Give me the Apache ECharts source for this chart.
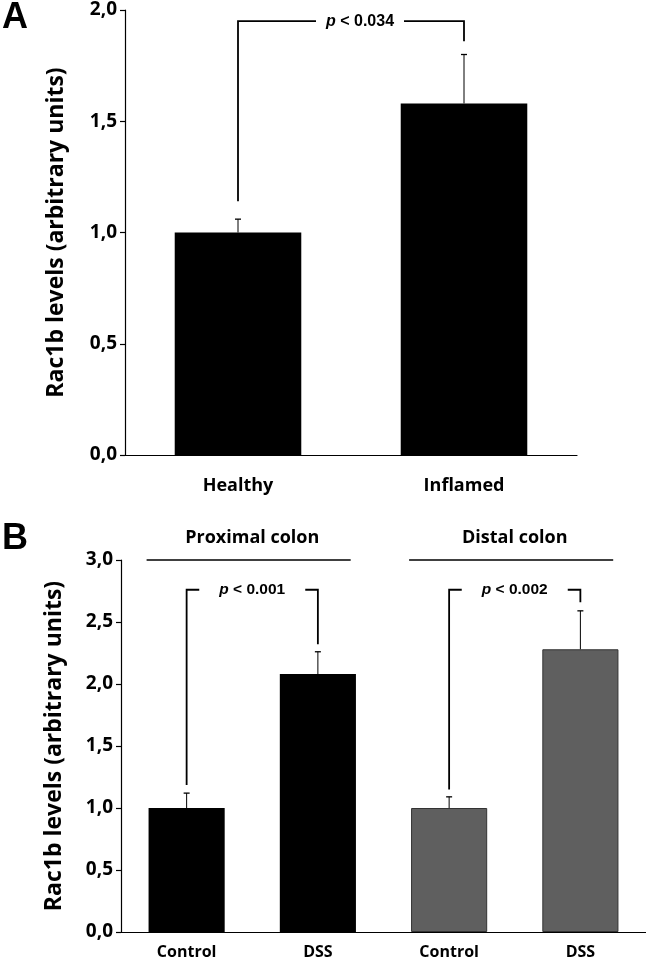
<!DOCTYPE html>
<html><head><meta charset="utf-8">
<script src="https://cdn.jsdelivr.net/npm/echarts@6/dist/echarts.min.js"></script>
<style>html,body{margin:0;padding:0;background:#fff}#c{width:646px;height:966px}</style>
</head><body><div id="c"></div>
<script>
// ---- data ----
const catsA = ['Healthy', 'Inflamed'];
const meanA = [1.0, 1.58];
const errA = [0.06, 0.22];
const catsB = ['Control', 'DSS', 'Control', 'DSS'];
const meanB = [1.0, 2.08, 1.0, 2.28];
const errB = [0.12, 0.18, 0.09, 0.31];
const groupsB = ['Proximal colon', 'Distal colon'];
const pA = ['p < 0.034'];
const pB = ['p < 0.001', 'p < 0.002'];
// brackets: [left category, right category, top, left leg bottom, right leg bottom]
const bracketA = [[0, 1, 1.95, 1.14, 1.86]];
const bracketB = [[0, 1, 2.76, 1.185, 2.32], [2, 3, 2.76, 1.15, 2.66]];
const groupSpanB = [[0, 1, 3.0], [2, 3, 3.0]];
const yMaxA = 2.0, yMaxB = 3.0, yStep = 0.5;
const yTitle = 'Rac1b levels (arbitrary units)';

const colorsB = ['#000000', '#000000', '#5f5f5f', '#5f5f5f'];
const tickFont = '"Open Sans", Lato, sans-serif';
const fmt = v => v.toFixed(1).replace('.', ',');

function errRender(params, api) {
  const top = api.coord([api.value(0), api.value(2)]);
  const base = api.coord([api.value(0), api.value(1)]);
  return {
    type: 'group', children: [
      { type: 'line', shape: { x1: top[0], y1: base[1], x2: top[0], y2: top[1] }, style: { stroke: '#000', lineWidth: 1 } },
      { type: 'line', shape: { x1: top[0] - 3, y1: top[1], x2: top[0] + 3, y2: top[1] }, style: { stroke: '#000', lineWidth: 1.3 } }
    ]
  };
}
function bracketRender(labels, gapHalf, fs, shift) {
  return function (params, api) {
    const l = api.coord([api.value(0), api.value(2)]);
    const r = api.coord([api.value(1), api.value(2)]);
    const lb = api.coord([api.value(0), api.value(3)]);
    const rb = api.coord([api.value(1), api.value(4)]);
    const mid = (l[0] + r[0]) / 2 + shift;
    const st = { stroke: '#000', lineWidth: 1.8 };
    return {
      type: 'group', children: [
        { type: 'polyline', shape: { points: [[lb[0], lb[1]], [l[0], l[1]], [mid - gapHalf, l[1]]] }, style: Object.assign({ fill: null }, st) },
        { type: 'polyline', shape: { points: [[mid + gapHalf, r[1]], [r[0], r[1]], [rb[0], rb[1]]] }, style: Object.assign({ fill: null }, st) },
        { type: 'text', x: mid, y: l[1], style: {
            text: '{i|' + labels[params.dataIndex].slice(0, 1) + '}' + labels[params.dataIndex].slice(1),
            align: 'center', verticalAlign: 'middle',
            font: 'bold ' + fs + 'px "Liberation Sans", Arial, sans-serif', fill: '#000',
            rich: { i: { fontStyle: 'italic', fontWeight: 'bold', fontSize: fs, fontFamily: '"Liberation Sans", Arial, sans-serif' } }
          } }
      ]
    };
  };
}
function groupRender(params, api) {
  const c0 = api.coord([api.value(0), api.value(2)]);
  const c1 = api.coord([api.value(1), api.value(2)]);
  const bw = api.size([1, 0])[0];
  const x1 = c0[0] - 0.305 * bw, x2 = c1[0] + 0.25 * bw;
  return {
    type: 'group', children: [
      { type: 'line', shape: { x1: x1, y1: c0[1], x2: x2, y2: c0[1] }, style: { stroke: '#000', lineWidth: 1.5 } },
      { type: 'text', x: (c0[0] + c1[0]) / 2, y: c0[1] - 22, style: {
          text: groupsB[params.dataIndex], align: 'center', verticalAlign: 'middle',
          font: 'bold 18px ' + tickFont, fill: '#000' } }
    ]
  };
}

function xAx(grid, data, fs, margin) {
  return {
    gridIndex: grid, type: 'category', data: data,
    axisLine: { lineStyle: { color: '#000', width: 1.2 } },
    axisTick: { length: 7, lineStyle: { color: '#000', width: 1.2 } },
    axisLabel: { color: '#000', fontFamily: tickFont, fontWeight: 'bold', fontSize: fs, margin: margin }
  };
}
function yAx(grid, max, gap) {
  return {
    gridIndex: grid, type: 'value', min: 0, max: max, interval: yStep,
    splitLine: { show: false },
    axisLine: { show: true, lineStyle: { color: '#000', width: 1.2 } },
    axisTick: { show: true, length: 5, lineStyle: { color: '#000', width: 1.2 } },
    axisLabel: { color: '#000', fontFamily: tickFont, fontWeight: 'bold', fontSize: 19, margin: 8, formatter: fmt },
    name: yTitle, nameLocation: 'middle', nameRotate: 90, nameGap: gap,
    nameTextStyle: { color: '#000', fontFamily: tickFont, fontWeight: 'bold', fontSize: 23 }
  };
}

const chart = echarts.init(document.getElementById('c'), null, { renderer: 'canvas' });
chart.setOption({
  animation: false,
  backgroundColor: '#fff',
  graphic: [
    { type: 'text', left: 2, top: 0, style: { text: 'A', font: 'bold 36px "Liberation Sans", Arial, sans-serif', fill: '#000' } },
    { type: 'text', left: 2, top: 521, style: { text: 'B', font: 'bold 36px "Liberation Sans", Arial, sans-serif', fill: '#000' } }
  ],
  grid: [
    { left: 125, top: 10, width: 452, height: 445 },
    { left: 121, top: 560, width: 530, height: 372 }
  ],
  xAxis: [xAx(0, catsA, 18, 22), xAx(1, catsB, 16, 12)],
  yAxis: [yAx(0, yMaxA, 57), yAx(1, yMaxB, 55)],
  series: [
    { type: 'bar', xAxisIndex: 0, yAxisIndex: 0, data: meanA, barCategoryGap: '44%',
      itemStyle: { color: '#000' } },
    { type: 'custom', xAxisIndex: 0, yAxisIndex: 0, renderItem: errRender,
      data: meanA.map((m, i) => [i, m, m + errA[i]]), z: 3 },
    { type: 'custom', xAxisIndex: 0, yAxisIndex: 0, renderItem: bracketRender(pA, 44, 16, 9),
      encode: { x: [0, 1], y: [2, 3, 4] }, data: bracketA, z: 3 },
    { type: 'bar', xAxisIndex: 1, yAxisIndex: 1, barCategoryGap: '42%',
      data: meanB.map((m, i) => ({ value: m, itemStyle: { color: colorsB[i], borderColor: i > 1 ? '#333' : '#000', borderWidth: i > 1 ? 1 : 0 } })) },
    { type: 'custom', xAxisIndex: 1, yAxisIndex: 1, renderItem: errRender,
      data: meanB.map((m, i) => [i, m, m + errB[i]]), z: 3 },
    { type: 'custom', xAxisIndex: 1, yAxisIndex: 1, renderItem: bracketRender(pB, 53, 15.5, 0),
      encode: { x: [0, 1], y: [2, 3, 4] }, data: bracketB, z: 3 },
    { type: 'custom', xAxisIndex: 1, yAxisIndex: 1, renderItem: groupRender,
      encode: { x: [0, 1], y: 2 }, data: groupSpanB, z: 3, clip: false }
  ]
});
</script></body></html>
